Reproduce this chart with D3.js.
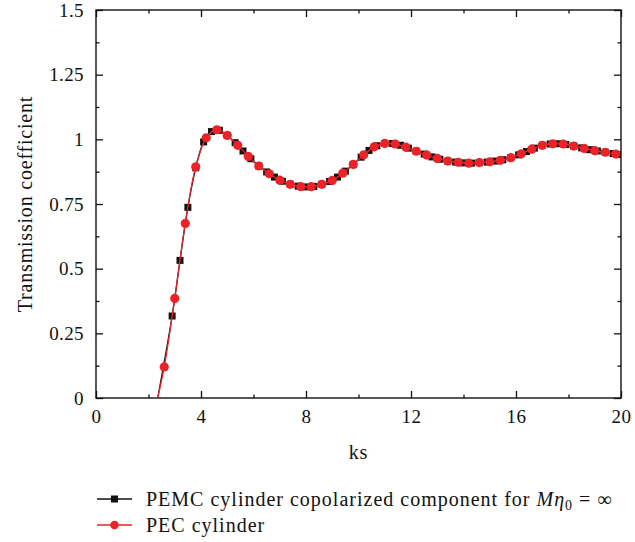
<!DOCTYPE html>
<html>
<head>
<meta charset="utf-8">
<script src="https://cdn.jsdelivr.net/npm/d3@7"></script>
<style>
    body { margin: 0; background: #fff; }
    svg text { font-family: "Liberation Serif", "Times New Roman", serif; fill: #111; }
</style>
</head>
<body>
<div id="chart"></div>
<script>
// PEC cylinder (red circles)
const pecKs = [2.6, 3.0, 3.4, 3.8, 4.2, 4.6, 5.0, 5.4, 5.8, 6.2, 6.6, 7.0, 7.4, 7.8, 8.2, 8.6, 9.0, 9.4, 9.8, 10.2,
    10.6, 11.0, 11.4, 11.8, 12.2, 12.6, 13.0, 13.4, 13.8, 14.2, 14.6, 15.0, 15.4, 15.8, 16.2, 16.6, 17.0, 17.4, 17.8,
    18.2, 18.6, 19.0, 19.4, 19.8];
const pecT = [0.12, 0.385, 0.675, 0.894, 1.006, 1.037, 1.015, 0.977, 0.934, 0.897, 0.867, 0.842, 0.826, 0.817, 0.817,
    0.826, 0.841, 0.869, 0.903, 0.940, 0.971, 0.984, 0.982, 0.970, 0.954, 0.939, 0.926, 0.916, 0.911, 0.908, 0.910,
    0.913, 0.919, 0.929, 0.944, 0.962, 0.977, 0.983, 0.982, 0.974, 0.965, 0.956, 0.950, 0.943];

// PEMC cylinder copolarized component (black squares)
const pemcKs = [2.9, 3.2, 3.5, 3.8, 4.1, 4.4, 4.7, 5.0, 5.3, 5.6, 5.9, 6.2, 6.5, 6.8, 7.1, 7.4, 7.7, 8.0, 8.3, 8.6,
    8.9, 9.2, 9.5, 9.8, 10.1, 10.4, 10.7, 11.0, 11.3, 11.6, 11.9, 12.2, 12.5, 12.8, 13.1, 13.4, 13.7, 14.0, 14.3, 14.6,
    14.9, 15.2, 15.5, 15.8, 16.1, 16.4, 16.7, 17.0, 17.3, 17.6, 17.9, 18.2, 18.5, 18.8, 19.1, 19.4, 19.7, 20.0];
const pemcT = [0.317, 0.532, 0.737, 0.89, 0.99, 1.03, 1.035, 1.015, 0.987, 0.955, 0.925, 0.897, 0.874, 0.854, 0.838,
    0.826, 0.819, 0.816, 0.818, 0.826, 0.837, 0.854, 0.877, 0.903, 0.931, 0.957, 0.975, 0.984, 0.984, 0.977, 0.966,
    0.954, 0.943, 0.932, 0.923, 0.916, 0.912, 0.909, 0.908, 0.910, 0.912, 0.916, 0.921, 0.929, 0.940, 0.953, 0.966,
    0.977, 0.982, 0.983, 0.980, 0.974, 0.967, 0.960, 0.955, 0.950, 0.945, 0.941];

// where the curves leave the axis
const leadKs = [2.35];
const leadT = [0];

const xTicks = [0, 4, 8, 12, 16, 20];
const yTicks = [0, 0.25, 0.5, 0.75, 1, 1.25, 1.5];
const yTickLabels = ['0', '0.25', '0.5', '0.75', '1', '1.25', '1.5'];

const RED = '#ec2228';

class TransmissionChart {
    constructor(_config) {
        this.config = {
            parentElement: _config.parentElement,
            containerWidth: _config.containerWidth || 635,
            containerHeight: _config.containerHeight || 542,
            margin: _config.margin || { top: 10, right: 14, bottom: 144, left: 96 }
        };
        this.initVis();
    }

    initVis() {
        let vis = this;
        vis.width = vis.config.containerWidth - vis.config.margin.left - vis.config.margin.right;
        vis.height = vis.config.containerHeight - vis.config.margin.top - vis.config.margin.bottom;

        vis.root = d3.select(vis.config.parentElement)
            .append('svg')
            .attr('width', vis.config.containerWidth)
            .attr('height', vis.config.containerHeight);

        vis.svg = vis.root.append('g')
            .attr('transform', `translate(${vis.config.margin.left}, ${vis.config.margin.top})`);

        vis.xScale = d3.scaleLinear().domain([0, 20]).range([0, vis.width]);
        vis.yScale = d3.scaleLinear().domain([0, 1.5]).range([vis.height, 0]);

        vis.svg.append('defs').append('clipPath')
            .attr('id', 'plot-clip')
            .append('rect')
            .attr('width', vis.width)
            .attr('height', vis.height);

        vis.renderVis();
    }

    renderVis() {
        let vis = this;
        const minorX = d3.range(0, 21, 2).filter(d => d % 4 !== 0);
        const minorY = d3.range(0, 1.5, 0.125).filter((d, i) => i % 2 === 1);

        // axes, ticks pointing inward on all four sides
        const axes = [
            { axis: d3.axisBottom(vis.xScale), t: `translate(0, ${vis.height})`, major: xTicks, minor: minorX, labels: true },
            { axis: d3.axisTop(vis.xScale), t: 'translate(0, 0)', major: xTicks, minor: minorX, labels: false },
            { axis: d3.axisLeft(vis.yScale), t: 'translate(0, 0)', major: yTicks, minor: minorY, labels: true },
            { axis: d3.axisRight(vis.yScale), t: `translate(${vis.width}, 0)`, major: yTicks, minor: minorY, labels: false }
        ];
        axes.forEach((a, i) => {
            const g = vis.svg.append('g').attr('class', 'axis').attr('transform', a.t);
            g.call(a.axis.tickValues(a.minor).tickSize(-3.5).tickFormat(''));
            const gm = vis.svg.append('g').attr('class', 'axis').attr('transform', a.t);
            gm.call(a.axis.tickValues(a.major).tickSize(-7).tickPadding(12)
                .tickFormat(a.labels ? (d => i === 2 ? yTickLabels[yTicks.indexOf(d)] : d) : ''));
            g.select('.domain').remove();
            gm.select('.domain').remove();
        });
        vis.svg.selectAll('.axis line').attr('stroke', '#111').attr('stroke-width', 1.3);
        vis.svg.selectAll('.axis text').attr('font-size', 19).attr('fill', '#111').attr('letter-spacing', 0.4);

        vis.svg.append('rect')
            .attr('width', vis.width)
            .attr('height', vis.height)
            .attr('fill', 'none')
            .attr('stroke', '#111')
            .attr('stroke-width', 1.4);

        // axis titles
        vis.svg.append('text')
            .attr('x', vis.width / 2)
            .attr('y', vis.height + 61)
            .attr('text-anchor', 'middle')
            .attr('font-size', 20)
            .attr('letter-spacing', 0.8)
            .text('ks');

        vis.svg.append('text')
            .attr('transform', 'rotate(-90)')
            .attr('x', -vis.height / 2)
            .attr('y', -64)
            .attr('text-anchor', 'middle')
            .attr('font-size', 20)
            .attr('letter-spacing', 0.8)
            .text('Transmission coefficient');

        const line = d3.line()
            .x(d => vis.xScale(d[0]))
            .y(d => vis.yScale(d[1]))
            .curve(d3.curveCatmullRom);

        const pemc = pemcKs.map((k, i) => [k, pemcT[i]]);
        const pec = pecKs.map((k, i) => [k, pecT[i]]);
        const lead = leadKs.map((k, i) => [k, leadT[i]]);

        const plot = vis.svg.append('g').attr('clip-path', 'url(#plot-clip)');

        plot.append('path')
            .datum(lead.concat(pemc))
            .attr('d', line)
            .attr('fill', 'none')
            .attr('stroke', '#111')
            .attr('stroke-width', 1.3);

        plot.selectAll('.sq')
            .data(pemc)
            .join('rect')
            .attr('class', 'sq')
            .attr('x', d => vis.xScale(d[0]) - 3.5)
            .attr('y', d => vis.yScale(d[1]) - 3.5)
            .attr('width', 7)
            .attr('height', 7)
            .attr('fill', '#111');

        plot.append('path')
            .datum(lead.concat(pec))
            .attr('d', line)
            .attr('fill', 'none')
            .attr('stroke', RED)
            .attr('stroke-width', 1.3);

        plot.selectAll('.dot')
            .data(pec)
            .join('circle')
            .attr('class', 'dot')
            .attr('cx', d => vis.xScale(d[0]))
            .attr('cy', d => vis.yScale(d[1]))
            .attr('r', 4.6)
            .attr('fill', RED);

        // legend
        const legend = vis.root.append('g').attr('transform', 'translate(97, 499)');

        legend.append('line').attr('x1', 0).attr('x2', 35).attr('y1', 0).attr('y2', 0)
            .attr('stroke', '#111').attr('stroke-width', 1.3);
        legend.append('rect').attr('x', 14).attr('y', -3.5).attr('width', 7).attr('height', 7).attr('fill', '#111');

        const t1 = legend.append('text').attr('x', 49).attr('y', 6.5).attr('font-size', 20).attr('letter-spacing', 1);
        t1.append('tspan').text('PEMC cylinder copolarized component for ');
        t1.append('tspan').attr('font-style', 'italic').text('Mη');
        t1.append('tspan').attr('font-size', 14).attr('dy', 4).text('0');
        t1.append('tspan').attr('dy', -4).text(' = ∞');

        legend.append('line').attr('x1', 0).attr('x2', 35).attr('y1', 26).attr('y2', 26)
            .attr('stroke', RED).attr('stroke-width', 1.3);
        legend.append('circle').attr('cx', 17.5).attr('cy', 26).attr('r', 4.3).attr('fill', RED);

        legend.append('text').attr('x', 49).attr('y', 33).attr('font-size', 20).attr('letter-spacing', 1)
            .text('PEC cylinder');
    }
}

new TransmissionChart({ parentElement: '#chart' });
</script>
</body>
</html>
